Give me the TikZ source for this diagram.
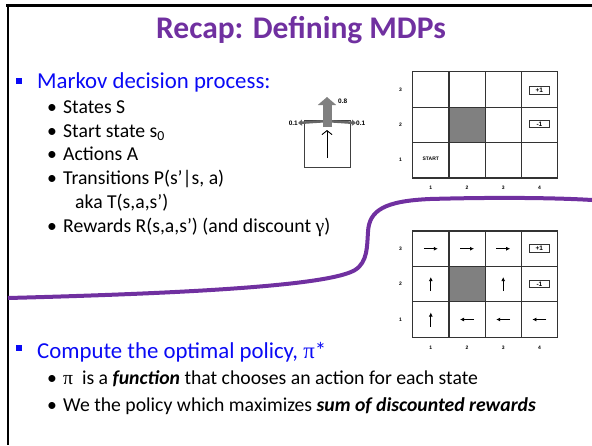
\documentclass[tikz,border=0pt]{standalone}
\usepackage{fontspec}
\setmainfont{Carlito}
\newfontfamily\simb{Liberation Serif}
\newfontfamily\arial{Liberation Sans}
\usetikzlibrary{positioning,arrows.meta}
\definecolor{roxo}{HTML}{7030A0}
\definecolor{azul}{HTML}{0A0AF5}
\newcommand{\marca}{\makebox[16pt][l]{\textbullet}}
\tikzset{
  cell/.style={draw=black!80, line width=1.2pt, rectangle, minimum width=36.2pt, minimum height=35.4pt, inner sep=0pt},
  sombra/.style={cell, fill=black!50},
  rot/.style={font=\arial\bfseries\fontsize{5}{5}\selectfont, inner sep=0pt},
  premio/.style={draw=black!80, line width=1pt, minimum width=20pt, minimum height=7.5pt, inner sep=0pt, font=\arial\bfseries\fontsize{6.5}{6.5}\selectfont},
  pol/.style={line width=1.3pt, -{Latex[length=4pt,width=4pt]}},
  prob/.style={font=\arial\bfseries\fontsize{6.5}{6.5}\selectfont, inner sep=0pt},
  titulo/.style={anchor=base, inner sep=0pt, text=roxo, font=\bfseries\fontsize{31.5}{34}\selectfont},
  nivel1/.style={anchor=base west, inner sep=0pt, text=azul, font=\fontsize{22.8}{26}\selectfont},
  nivel2/.style={anchor=base west, inner sep=0pt, font=\fontsize{19.7}{22}\selectfont},
  quad/.style={fill=azul, minimum size=6pt, inner sep=0pt}
}
\begin{document}
\begin{tikzpicture}[x=1pt, y=-1pt]
    \useasboundingbox (0,0) rectangle (592,445);

    % Moldura do slide
    \draw[line width=2.5pt] (6,5.5) -- (592,5.5);
    \draw[line width=2.2pt] (8,5.5) -- (8,445);

    % Curva roxa
    \draw[roxo, line width=4pt] (8,298) .. controls (200,293) and (330,285) .. (355,270)
        .. controls (368,262) and (367,245) .. (368,232)
        .. controls (369,210) and (385,201) .. (430,199)
        .. controls (500,197) and (560,198) .. (592,200);

    % Titulo e textos
    \node[titulo] (tit) at (301,38) {Recap: Defining MDPs};
    \node[quad] (q1) at (18.5,81) {};
    \node[nivel1] (mdp) at (37,88) {Markov decision process:};
    \node[nivel2] (s1) at (47,113) {\marca States S};
    \node[nivel2] (s2) at (47,137) {\marca Start state s\textsubscript{0}};
    \node[nivel2] (s3) at (47,160) {\marca Actions A};
    \node[nivel2] (s4) at (47,184) {\marca Transitions P(s’|s, a)};
    \node[nivel2] (s5) at (75,208) {aka T(s,a,s’)};
    \node[nivel2] (s6) at (47,232) {\marca Rewards R(s,a,s’) (and discount {\simb γ})};
    \node[quad] (q2) at (18.5,348) {};
    \node[nivel1] (pol) at (37,358) {Compute the optimal policy, {\simb π}*};
    \node[nivel2] (p1) at (47,384) {\marca {\simb π}\ \ is a \textbf{\textit{function}} that chooses an action for each state};
    \node[nivel2] (p2) at (47,411) {\marca We the policy which maximizes \textbf{\textit{sum of discounted rewards}}};

    % Acao com ruido
    \node[draw=black!75, line width=0.9pt, rectangle, minimum width=46pt, minimum height=47pt] (acao) at (327,143.5) {};
    \coordinate (topo) at ([yshift=-1.5pt]acao.north);
    \coordinate (ponta) at (327,97);
    \node[prob, anchor=east] (pesq) at (298,123) {0.1};
    \node[prob, anchor=west] (pdir) at (356,123) {0.1};
    \node[prob, anchor=west] (pcim) at (338,101) {0.8};
    \draw[black!60, line width=2.5pt, -{Triangle[width=6pt,length=4pt]}] (topo) -- (pesq.east);
    \draw[black!60, line width=2.5pt, -{Triangle[width=6pt,length=4pt]}] (topo) -- (pdir.west);
    \draw[black!50, line width=9pt, -{Triangle[width=18pt,length=8pt]}] ([yshift=-6pt]topo) -- (ponta);
    \draw[line width=0.9pt, -{Straight Barb[length=4pt,width=10pt]}] ([yshift=-14.5pt]acao.center) -- ([yshift=13.5pt]acao.center);

    % Grade de cima
    \node[cell] (a13) at (430.8,89.4) {};
    \node[cell] (a23) at (467,89.4) {};
    \node[cell] (a33) at (503.2,89.4) {};
    \node[cell] (a43) at (539.4,89.4) {};
    \node[cell] (a12) at (430.8,124.8) {};
    \node[sombra] (a22) at (467,124.8) {};
    \node[cell] (a32) at (503.2,124.8) {};
    \node[cell] (a42) at (539.4,124.8) {};
    \node[cell] (a11) at (430.8,160.2) {};
    \node[cell] (a21) at (467,160.2) {};
    \node[cell] (a31) at (503.2,160.2) {};
    \node[cell] (a41) at (539.4,160.2) {};
    \node[premio] (a43p) at ([yshift=-1pt]a43.center) {+1};
    \node[premio] (a42p) at ([yshift=1pt]a42.center) {-1};
    \node[rot] (start) at ([yshift=1pt]a11.center) {START};
    \node[rot, left=10pt of a13] (ra3) {3};
    \node[rot, left=10pt of a12] (ra2) {2};
    \node[rot, left=10pt of a11] (ra1) {1};
    \node[rot, below=7pt of a11] (ca1) {1};
    \node[rot, below=7pt of a21] (ca2) {2};
    \node[rot, below=7pt of a31] (ca3) {3};
    \node[rot, below=7pt of a41] (ca4) {4};

    % Grade de baixo com a politica
    \node[cell] (b13) at (430.8,248.7) {};
    \node[cell] (b23) at (467,248.7) {};
    \node[cell] (b33) at (503.2,248.7) {};
    \node[cell] (b43) at (539.4,248.7) {};
    \node[cell] (b12) at (430.8,284.1) {};
    \node[sombra] (b22) at (467,284.1) {};
    \node[cell] (b32) at (503.2,284.1) {};
    \node[cell] (b42) at (539.4,284.1) {};
    \node[cell] (b11) at (430.8,319.5) {};
    \node[cell] (b21) at (467,319.5) {};
    \node[cell] (b31) at (503.2,319.5) {};
    \node[cell] (b41) at (539.4,319.5) {};
    \node[premio] (b43p) at (b43.center) {+1};
    \node[premio] (b42p) at (b42.center) {-1};
    \node[rot, left=10pt of b13] (rb3) {3};
    \node[rot, left=10pt of b12] (rb2) {2};
    \node[rot, left=10pt of b11] (rb1) {1};
    \node[rot, below=8pt of b11] (cb1) {1};
    \node[rot, below=8pt of b21] (cb2) {2};
    \node[rot, below=8pt of b31] (cb3) {3};
    \node[rot, below=8pt of b41] (cb4) {4};

    % Setas da politica
    \draw[pol] ([xshift=-7pt]b13.center) -- ([xshift=7pt]b13.center);
    \draw[pol] ([xshift=-7pt]b23.center) -- ([xshift=7pt]b23.center);
    \draw[pol] ([xshift=-7pt]b33.center) -- ([xshift=7pt]b33.center);
    \draw[pol] ([yshift=-7pt]b12.center) -- ([yshift=7pt]b12.center);
    \draw[pol] ([yshift=-7pt]b32.center) -- ([yshift=7pt]b32.center);
    \draw[pol] ([yshift=-7pt]b11.center) -- ([yshift=7pt]b11.center);
    \draw[pol] ([xshift=7pt]b21.center) -- ([xshift=-7pt]b21.center);
    \draw[pol] ([xshift=7pt]b31.center) -- ([xshift=-7pt]b31.center);
    \draw[pol] ([xshift=7pt]b41.center) -- ([xshift=-7pt]b41.center);
\end{tikzpicture}
\end{document}
